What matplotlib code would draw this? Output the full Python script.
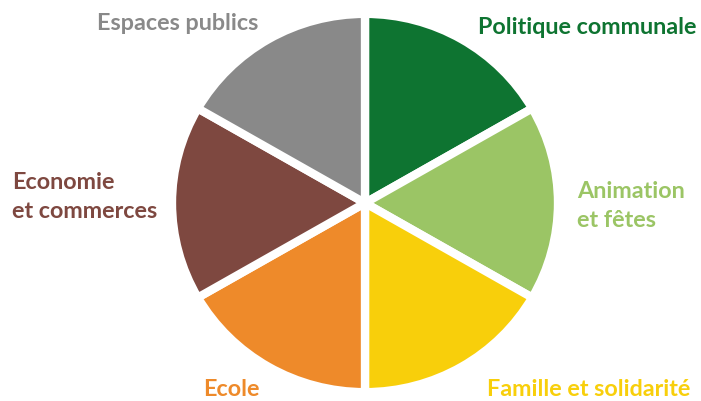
import matplotlib.pyplot as plt

# six themes, equal share each
labels = ['Politique communale', 'Animation\net fêtes', 'Famille et solidarité',
          'Ecole', 'Economie\net commerces', 'Espaces publics']
values = [1, 1, 1, 1, 1, 1]
colors = ['#0e7431', '#9bc565', '#f8cf0b', '#ee8a2a', '#7e4840', '#898989']

fig = plt.figure(figsize=(7.01, 4.01), dpi=100)
ax = fig.add_axes([0, 0, 1, 1])
ax.axis('off')

# pie is a little wider than tall in the reference
yscale = 0.98
ax.pie(values, colors=colors, startangle=90, counterclock=False,
       center=(365, (401 - 203) / yscale), radius=193,
       wedgeprops=dict(edgecolor='white', linewidth=6))
ax.set_aspect('auto')
ax.set_xlim(0, 701)
ax.set_ylim(0, 401 / yscale)

# label positions in pixels (x, y from top)
label_pos = [(478, 27), (577, 206), (487, 390), (203, 390), (12, 197), (97, 23)]

for lab, col, (x, y) in zip(labels, colors, label_pos):
    ax.text(x / 701, 1 - y / 401, lab, transform=ax.transAxes, color=col,
            ha='left', va='center', fontsize=16.8, fontweight='bold',
            family=['Lato', 'DejaVu Sans'], linespacing=1.5)

fig.savefig('out.png', dpi=100)
